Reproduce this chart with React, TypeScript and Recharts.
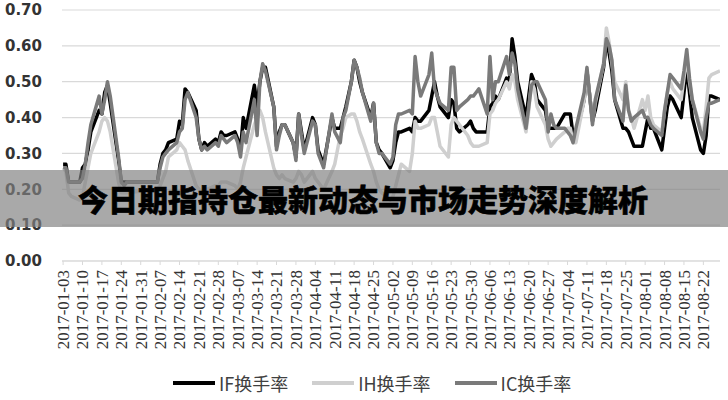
import React from 'react';
import { LineChart, Line, XAxis, YAxis, CartesianGrid } from 'recharts';

// Weekly tick labels of the date axis
const tickLabels = [
  '2017-01-03', '2017-01-10', '2017-01-17', '2017-01-24', '2017-01-31', '2017-02-07',
  '2017-02-14', '2017-02-21', '2017-02-28', '2017-03-07', '2017-03-14', '2017-03-21',
  '2017-03-28', '2017-04-04', '2017-04-11', '2017-04-18', '2017-04-25', '2017-05-02',
  '2017-05-09', '2017-05-16', '2017-05-23', '2017-05-30', '2017-06-06', '2017-06-13',
  '2017-06-20', '2017-06-27', '2017-07-04', '2017-07-11', '2017-07-18', '2017-07-25',
  '2017-08-01', '2017-08-08', '2017-08-15', '2017-08-22',
];

// Observation dates, as days since 2017-01-03
const days = [
  0, 1, 2, 3, 6, 7, 8, 9, 10, 13, 14, 15, 16, 17, 20, 21, 22, 23,
  34, 35, 36, 37, 38, 41, 42, 43, 44, 45, 48, 49, 50, 51, 52, 55, 56, 57, 58, 59,
  62, 63, 64, 65, 66, 69, 70, 71, 72, 73, 76, 77, 78, 79, 80, 83, 84, 85, 86, 87,
  90, 91, 92, 93, 94, 97, 98, 100, 101, 102, 104, 105, 106, 107, 108, 111, 112, 113, 114, 115,
  118, 119, 120, 121, 122, 125, 126, 127, 128, 129, 132, 133, 134, 135, 136, 139, 140, 141, 142, 143,
  146, 147, 148, 149, 150, 153, 154, 155, 156, 157, 160, 161, 162, 163, 164, 167, 168, 169, 170, 171,
  174, 175, 176, 177, 178, 181, 182, 183, 184, 185, 188, 189, 190, 191, 192, 195, 196, 197, 198, 199,
  202, 203, 204, 205, 206, 209, 210, 211, 212, 213, 216, 217, 218, 219, 220, 223, 224, 225, 226, 227,
  230, 231, 232, 233, 234, 237,
];

const ifRate = [
  0.27, 0.27, 0.22, 0.22, 0.22, 0.26, 0.27, 0.31, 0.36, 0.42, 0.41, 0.47, 0.49, 0.44, 0.28, 0.22, 0.22, 0.22,
  0.22, 0.27, 0.30, 0.31, 0.33, 0.34, 0.39, 0.38, 0.48, 0.47, 0.42, 0.34, 0.31, 0.33, 0.32, 0.34, 0.33, 0.36, 0.35, 0.35,
  0.36, 0.34, 0.31, 0.40, 0.37, 0.49, 0.43, 0.50, 0.54, 0.54, 0.43, 0.32, 0.36, 0.38, 0.38, 0.33, 0.29, 0.41, 0.36, 0.31,
  0.40, 0.38, 0.31, 0.29, 0.27, 0.40, 0.37, 0.37, 0.40, 0.43, 0.50, 0.56, 0.54, 0.50, 0.47, 0.40, 0.44, 0.33, 0.31, 0.30,
  0.26, 0.28, 0.33, 0.36, 0.36, 0.37, 0.36, 0.40, 0.39, 0.39, 0.42, 0.46, 0.50, 0.46, 0.43, 0.40, 0.45, 0.44, 0.37, 0.36,
  0.38, 0.39, 0.37, 0.36, 0.36, 0.36, 0.43, 0.44, 0.46, 0.45, 0.51, 0.50, 0.62, 0.57, 0.50, 0.40, 0.46, 0.52, 0.50, 0.45,
  0.42, 0.37, 0.37, 0.37, 0.37, 0.41, 0.41, 0.41, 0.35, 0.35, 0.45, 0.53, 0.46, 0.39, 0.42, 0.54, 0.61, 0.58, 0.53, 0.45,
  0.37, 0.37, 0.36, 0.34, 0.32, 0.32, 0.36, 0.40, 0.37, 0.37, 0.31, 0.37, 0.43, 0.46, 0.45, 0.40, 0.47, 0.54, 0.47, 0.40,
  0.31, 0.30, 0.35, 0.46, 0.46, 0.45,
];

const ihRate = [
  0.26, 0.25, 0.19, 0.18, 0.17, 0.18, 0.22, 0.26, 0.30, 0.36, 0.39, 0.40, 0.39, 0.36, 0.22, 0.19, 0.19, 0.19,
  0.20, 0.21, 0.23, 0.25, 0.29, 0.31, 0.33, 0.32, 0.31, 0.28, 0.21, 0.20, 0.19, 0.20, 0.20, 0.21, 0.21, 0.22, 0.22, 0.22,
  0.21, 0.20, 0.22, 0.26, 0.29, 0.38, 0.40, 0.42, 0.40, 0.36, 0.26, 0.24, 0.23, 0.24, 0.23, 0.22, 0.23, 0.25, 0.24, 0.22,
  0.25, 0.23, 0.22, 0.21, 0.20, 0.25, 0.27, 0.35, 0.37, 0.40, 0.41, 0.41, 0.39, 0.36, 0.34, 0.27, 0.25, 0.22, 0.20, 0.19,
  0.17, 0.18, 0.21, 0.24, 0.27, 0.25, 0.30, 0.39, 0.37, 0.37, 0.38, 0.40, 0.40, 0.36, 0.32, 0.29, 0.38, 0.40, 0.39, 0.38,
  0.35, 0.33, 0.32, 0.32, 0.32, 0.33, 0.41, 0.42, 0.44, 0.45, 0.50, 0.48, 0.52, 0.50, 0.45, 0.36, 0.42, 0.50, 0.48, 0.43,
  0.38, 0.34, 0.32, 0.33, 0.34, 0.36, 0.37, 0.37, 0.33, 0.33, 0.45, 0.53, 0.46, 0.39, 0.44, 0.55, 0.65, 0.61, 0.55, 0.50,
  0.45, 0.50, 0.42, 0.40, 0.37, 0.45, 0.42, 0.46, 0.40, 0.38, 0.36, 0.42, 0.47, 0.50, 0.48, 0.45, 0.51, 0.57, 0.50, 0.45,
  0.37, 0.36, 0.43, 0.51, 0.52, 0.53,
];

const icRate = [
  0.26, 0.26, 0.22, 0.22, 0.22, 0.23, 0.27, 0.33, 0.38, 0.46, 0.41, 0.45, 0.50, 0.46, 0.29, 0.22, 0.21, 0.22,
  0.22, 0.26, 0.29, 0.30, 0.31, 0.33, 0.36, 0.37, 0.45, 0.47, 0.40, 0.34, 0.31, 0.32, 0.31, 0.33, 0.32, 0.35, 0.34, 0.33,
  0.35, 0.33, 0.29, 0.36, 0.33, 0.45, 0.35, 0.50, 0.55, 0.53, 0.43, 0.31, 0.35, 0.38, 0.38, 0.33, 0.28, 0.41, 0.35, 0.30,
  0.39, 0.38, 0.30, 0.28, 0.26, 0.41, 0.36, 0.33, 0.40, 0.42, 0.50, 0.56, 0.54, 0.51, 0.47, 0.39, 0.44, 0.33, 0.30, 0.30,
  0.27, 0.29, 0.38, 0.41, 0.41, 0.42, 0.41, 0.57, 0.50, 0.46, 0.52, 0.58, 0.48, 0.46, 0.44, 0.42, 0.54, 0.54, 0.42, 0.43,
  0.45, 0.46, 0.46, 0.47, 0.48, 0.41, 0.57, 0.45, 0.50, 0.50, 0.57, 0.52, 0.58, 0.55, 0.48, 0.37, 0.43, 0.49, 0.50, 0.50,
  0.45, 0.36, 0.41, 0.38, 0.37, 0.37, 0.36, 0.35, 0.33, 0.37, 0.47, 0.54, 0.46, 0.38, 0.45, 0.55, 0.62, 0.60, 0.56, 0.45,
  0.39, 0.49, 0.42, 0.39, 0.40, 0.42, 0.40, 0.40, 0.38, 0.37, 0.35, 0.42, 0.47, 0.52, 0.51, 0.48, 0.53, 0.59, 0.51, 0.45,
  0.36, 0.34, 0.40, 0.44, 0.44, 0.45,
];

const yTicks = [0, 0.1, 0.2, 0.3, 0.4, 0.5, 0.6, 0.7];

const series = [
  { key: 'IF', name: 'IF换手率', color: '#000000' },
  { key: 'IH', name: 'IH换手率', color: '#cfcfcf' },
  { key: 'IC', name: 'IC换手率', color: '#7a7a7a' },
];

const title = '今日期指持仓最新动态与市场走势深度解析';

const DAY_MS = 86400000;
const t0 = Date.parse(tickLabels[0]);
const tickDays = tickLabels.map((s) => Math.round((Date.parse(s) - t0) / DAY_MS));
const data = days.map((d, i) => ({ day: d, IF: ifRate[i], IH: ihRate[i], IC: icRate[i] }));

const XTick = (props: any) => {
  const { x, y, payload } = props;
  const idx = tickDays.indexOf(payload.value);
  const label = idx >= 0 ? tickLabels[idx] : '';
  return (
    <text
      x={0}
      y={0}
      transform={`translate(${x},${y}) rotate(-90)`}
      textAnchor="end"
      dy="0.35em"
      fontFamily="'Liberation Serif', serif"
      fontSize={17}
      fill="#333"
    >
      {label}
    </text>
  );
};

export default function App() {
  return (
    <div
      style={{
        position: 'absolute',
        left: 0,
        top: 0,
        width: 728,
        height: 400,
        background: '#fff',
        overflow: 'hidden',
      }}
    >
      <LineChart width={728} height={400} data={data} margin={{ top: 10, right: 8, left: 0, bottom: 0 }}>
        <CartesianGrid vertical={false} stroke="#d9d9d9" strokeWidth={1.2} />
        <XAxis
          type="number"
          dataKey="day"
          domain={[-0.4, 237]}
          ticks={tickDays}
          interval={0}
          allowDataOverflow
          height={139}
          tickSize={4}
          tickMargin={5}
          stroke="#d9d9d9"
          tick={<XTick />}
        />
        <YAxis
          domain={[0, 0.7]}
          ticks={yTicks}
          interval={0}
          width={62}
          axisLine={false}
          tickLine={false}
          tickSize={0}
          tickMargin={20}
          tickFormatter={(v: number) => v.toFixed(2)}
          tick={{ fontFamily: "'DejaVu Sans', sans-serif", fontWeight: 'bold', fontSize: 15, fill: '#333' }}
        />
        {series.map((s) => (
          <Line
            key={s.key}
            type="linear"
            dataKey={s.key}
            name={s.name}
            stroke={s.color}
            strokeWidth={3.5}
            dot={false}
            isAnimationActive={false}
            strokeLinejoin="round"
          />
        ))}
      </LineChart>

      <div
        style={{
          position: 'absolute',
          left: 173,
          top: 371,
          display: 'flex',
          alignItems: 'center',
          gap: 24,
          fontFamily: "'Noto Sans CJK SC', 'Noto Sans', sans-serif",
          fontSize: 18,
          color: '#404040',
          lineHeight: '24px',
        }}
      >
        {series.map((s) => (
          <div key={s.key} style={{ display: 'flex', alignItems: 'center' }}>
            <div style={{ width: 42, height: 4, background: s.color, marginRight: 4 }} />
            <span>{s.name}</span>
          </div>
        ))}
      </div>

      <div
        style={{
          position: 'absolute',
          left: 0,
          top: 170,
          width: 728,
          height: 57,
          background: 'rgba(128,128,128,0.68)',
        }}
      >
        <div
          style={{
            position: 'absolute',
            left: 78,
            top: 0,
            height: 57,
            lineHeight: '57px',
            fontFamily: "'Noto Sans CJK SC', sans-serif",
            fontWeight: 900,
            fontSize: 30,
            color: '#000',
            whiteSpace: 'nowrap',
            WebkitTextStroke: '0.6px #000',
          }}
        >
          {title}
        </div>
      </div>
    </div>
  );
}
